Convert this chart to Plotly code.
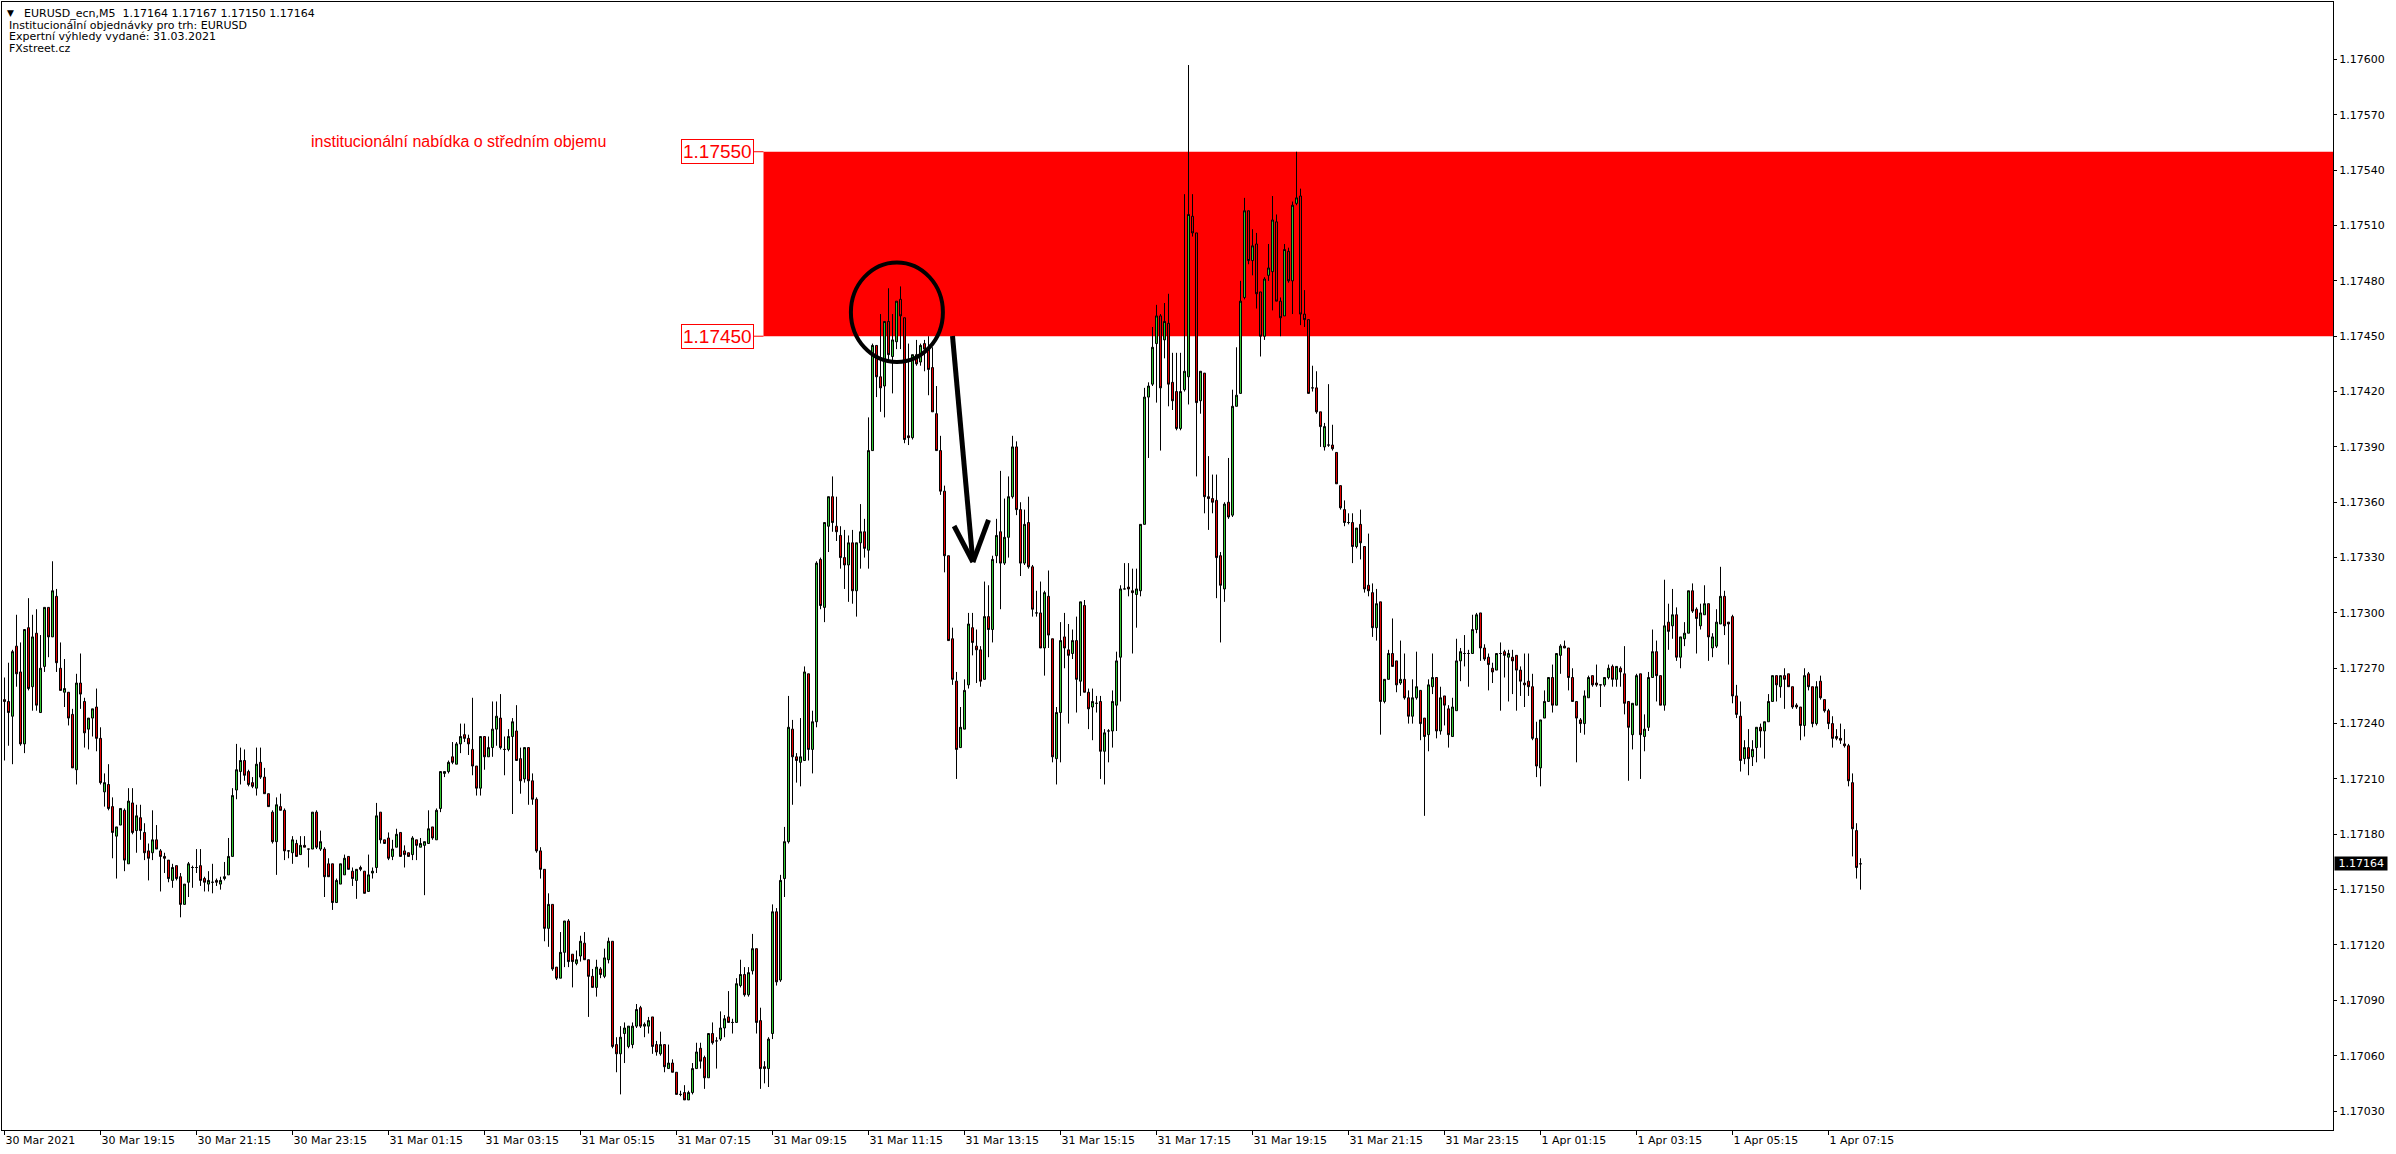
import pandas as pd
import plotly.graph_objects as go

# ---------------- data (EURUSD_ecn, M5) ----------------
START = "2021-03-30 17:15"

OPEN = [
1.17253,1.17252,1.17244,1.17282,1.17268,1.17229,1.17292,1.17260,1.17289,1.17246,
1.17271,1.17303,1.17287,1.17309,1.17270,1.17257,1.17257,1.17245,1.17215,1.17262,
1.17252,1.17237,1.17243,1.17249,1.17232,1.17203,1.17207,1.17195,1.17179,1.17185,
1.17193,1.17164,1.17197,1.17182,1.17189,1.17181,1.17171,1.17170,1.17177,1.17171,
1.17168,1.17166,1.17155,1.17163,1.17157,1.17142,1.17154,1.17162,1.17162,1.17163,
1.17156,1.17153,1.17154,1.17155,1.17153,1.17156,1.17158,1.17168,1.17204,1.17214,
1.17220,1.17214,1.17208,1.17205,1.17219,1.17211,1.17202,1.17192,1.17176,1.17195,
1.17193,1.17171,1.17170,1.17175,1.17169,1.17174,1.17172,1.17172,1.17192,1.17172,
1.17172,1.17164,1.17164,1.17143,1.17153,1.17158,1.17168,1.17160,1.17155,1.17162,
1.17160,1.17149,1.17159,1.17162,1.17192,1.17177,1.17178,1.17168,1.17173,1.17181,
1.17171,1.17170,1.17169,1.17177,1.17173,1.17174,1.17175,1.17184,1.17177,1.17194,
1.17213,1.17214,1.17222,1.17218,1.17229,1.17234,1.17232,
1.17226,1.17217,1.17205,1.17233,1.17222,1.17227,1.17237,1.17243,1.17226,1.17226,
1.17233,1.17236,1.17221,1.17210,1.17227,1.17209,1.17199,1.17171,1.17161,1.17129,
1.17142,1.17108,1.17102,1.17116,1.17133,1.17115,1.17110,1.17114,1.17121,1.17112,
1.17103,1.17097,1.17107,1.17103,1.17112,1.17122,1.17066,1.17061,1.17072,1.17065,
1.17066,1.17076,1.17086,1.17076,1.17076,1.17081,1.17066,1.17061,1.17066,1.17053,
1.17056,1.17051,1.17039,1.17040,1.17036,1.17040,1.17053,1.17064,1.17059,1.17048,
1.17072,1.17068,1.17069,1.17075,1.17081,1.17078,1.17078,1.17098,1.17104,1.17093,
1.17106,1.17118,1.17079,1.17054,1.17053,1.17072,1.17138,1.17101,1.17156,1.17176,
1.17237,1.17222,1.17219,1.17220,1.17267,1.17226,1.17241,1.17329,1.17303,1.17347,
1.17363,1.17347,1.17342,1.17330,1.17326,1.17338,1.17312,1.17338,1.17344,1.17334,
1.17388,1.17445,1.17428,1.17423,1.17458,1.17439,1.17447,1.17470,1.17460,1.17396,
1.17395,1.17440,1.17436,1.17446,1.17443,1.17433,1.17408,1.17388,
1.17366,1.17331,1.17286,1.17263,1.17227,1.17237,1.17261,1.17292,1.17282,1.17280,
1.17264,1.17298,1.17291,1.17331,1.17344,1.17327,1.17341,1.17363,1.17390,1.17356,
1.17327,1.17349,1.17325,1.17300,1.17300,1.17281,1.17309,1.17286,1.17221,1.17246,
1.17287,1.17280,1.17278,1.17285,1.17263,1.17304,1.17257,1.17249,1.17251,1.17252,
1.17225,1.17236,1.17236,1.17250,1.17276,1.17313,1.17314,1.17312,1.17310,1.17312,
1.17348,1.17417,1.17424,1.17446,1.17461,1.17448,1.17457,1.17425,1.17420,1.17400,
1.17421,1.17428,1.17515,1.17506,1.17415,1.17430,1.17363,1.17362,1.17361,1.17331,
1.17313,1.17360,1.17353,1.17412,1.17419,1.17471,1.17518,1.17491,1.17500,1.17474,
1.17450,1.17483,1.17485,1.17512,1.17469,1.17461,1.17496,1.17480,1.17522,1.17526,
1.17462,1.17459,1.17422,1.17422,1.17409,1.17390,1.17391,1.17391,1.17387,1.17369,
1.17356,1.17349,1.17349,1.17336,1.17348,1.17336,1.17315,1.17311,1.17292,1.17306,
1.17252,1.17264,1.17278,1.17274,1.17262,
1.17264,1.17254,1.17244,1.17254,1.17258,1.17243,1.17234,1.17260,1.17265,1.17236,
1.17255,1.17248,1.17233,1.17247,1.17274,1.17278,1.17278,1.17278,1.17291,1.17300,
1.17281,1.17276,1.17270,1.17269,1.17278,1.17279,1.17276,1.17276,1.17277,1.17269,
1.17262,1.17263,1.17260,1.17232,1.17216,1.17243,1.17252,1.17265,1.17250,1.17277,
1.17282,1.17281,1.17265,1.17252,1.17242,1.17240,1.17254,1.17266,1.17262,1.17261,
1.17261,1.17265,1.17271,1.17264,1.17270,1.17267,1.17252,1.17234,1.17250,1.17267,
1.17233,1.17238,1.17265,1.17279,1.17266,1.17250,1.17295,1.17293,1.17299,1.17276,
1.17286,1.17289,1.17312,1.17302,1.17293,1.17299,1.17305,1.17281,1.17282,1.17294,
1.17309,1.17295,1.17298,1.17255,1.17244,1.17221,1.17227,1.17222,1.17227,1.17238,
1.17236,1.17241,1.17252,1.17266,1.17260,1.17266,1.17267,1.17260,1.17250,1.17249,
1.17239,1.17267,1.17260,1.17240,1.17263,1.17253,1.17247,1.17240,1.17233,1.17232,
1.17229,1.17228,1.17208,1.17182,1.17164,
]

HIGH = [
1.17265,1.17273,1.17280,1.17299,1.17284,1.17291,1.17308,1.17299,1.17302,1.17288,
1.17303,1.17303,1.17328,1.17313,1.17284,1.17275,1.17257,1.17248,1.17267,1.17278,
1.17254,1.17243,1.17248,1.17259,1.17238,1.17213,1.17218,1.17200,1.17184,1.17194,
1.17194,1.17205,1.17205,1.17196,1.17196,1.17186,1.17175,1.17193,1.17185,1.17172,
1.17170,1.17166,1.17164,1.17163,1.17159,1.17153,1.17165,1.17163,1.17172,1.17172,
1.17157,1.17160,1.17164,1.17156,1.17157,1.17165,1.17178,1.17205,1.17229,1.17227,
1.17226,1.17215,1.17211,1.17227,1.17227,1.17216,1.17202,1.17193,1.17200,1.17202,
1.17194,1.17171,1.17179,1.17177,1.17179,1.17179,1.17172,1.17192,1.17193,1.17182,
1.17173,1.17167,1.17164,1.17156,1.17164,1.17169,1.17168,1.17162,1.17161,1.17163,
1.17160,1.17169,1.17162,1.17197,1.17192,1.17177,1.17181,1.17177,1.17183,1.17181,
1.17174,1.17170,1.17179,1.17177,1.17178,1.17176,1.17193,1.17184,1.17194,1.17214,
1.17214,1.17220,1.17230,1.17230,1.17240,1.17240,1.17234,
1.17254,1.17217,1.17233,1.17233,1.17233,1.17252,1.17252,1.17256,1.17233,1.17237,
1.17243,1.17250,1.17227,1.17227,1.17227,1.17213,1.17200,1.17173,1.17161,1.17148,
1.17142,1.17108,1.17127,1.17133,1.17134,1.17115,1.17117,1.17125,1.17127,1.17112,
1.17107,1.17112,1.17108,1.17118,1.17124,1.17122,1.17070,1.17076,1.17078,1.17076,
1.17078,1.17088,1.17087,1.17078,1.17081,1.17081,1.17068,1.17073,1.17066,1.17066,
1.17058,1.17051,1.17041,1.17044,1.17041,1.17056,1.17067,1.17067,1.17060,1.17072,
1.17078,1.17070,1.17084,1.17082,1.17095,1.17080,1.17102,1.17112,1.17108,1.17108,
1.17126,1.17118,1.17086,1.17057,1.17070,1.17142,1.17140,1.17158,1.17184,1.17255,
1.17242,1.17224,1.17243,1.17271,1.17267,1.17247,1.17328,1.17330,1.17349,1.17363,
1.17374,1.17363,1.17347,1.17345,1.17342,1.17345,1.17338,1.17359,1.17351,1.17406,
1.17446,1.17445,1.17462,1.17458,1.17476,1.17462,1.17469,1.17477,1.17460,1.17446,
1.17440,1.17448,1.17446,1.17448,1.17450,1.17444,1.17423,1.17396,
1.17369,1.17331,1.17292,1.17268,1.17249,1.17264,1.17300,1.17300,1.17291,1.17282,
1.17317,1.17315,1.17331,1.17351,1.17377,1.17362,1.17374,1.17396,1.17393,1.17360,
1.17356,1.17363,1.17326,1.17312,1.17317,1.17312,1.17323,1.17286,1.17249,1.17295,
1.17300,1.17294,1.17291,1.17298,1.17306,1.17307,1.17259,1.17259,1.17255,1.17255,
1.17237,1.17237,1.17258,1.17279,1.17315,1.17327,1.17327,1.17324,1.17324,1.17348,
1.17422,1.17425,1.17455,1.17467,1.17462,1.17468,1.17473,1.17441,1.17441,1.17441,
1.17527,1.17597,1.17527,1.17506,1.17431,1.17430,1.17385,1.17375,1.17375,1.17333,
1.17360,1.17384,1.17421,1.17444,1.17480,1.17525,1.17518,1.17508,1.17506,1.17474,
1.17482,1.17500,1.17526,1.17516,1.17471,1.17500,1.17498,1.17523,1.17550,1.17530,
1.17475,1.17459,1.17434,1.17431,1.17409,1.17403,1.17424,1.17402,1.17387,1.17369,
1.17361,1.17354,1.17354,1.17346,1.17356,1.17336,1.17343,1.17316,1.17313,1.17306,
1.17264,1.17280,1.17297,1.17274,1.17285,
1.17278,1.17258,1.17264,1.17279,1.17258,1.17243,1.17264,1.17278,1.17265,1.17260,
1.17255,1.17250,1.17254,1.17286,1.17281,1.17288,1.17280,1.17299,1.17300,1.17300,
1.17283,1.17278,1.17273,1.17278,1.17284,1.17280,1.17280,1.17280,1.17277,1.17271,
1.17278,1.17278,1.17267,1.17241,1.17242,1.17258,1.17265,1.17272,1.17278,1.17283,
1.17285,1.17281,1.17270,1.17252,1.17243,1.17258,1.17266,1.17266,1.17272,1.17261,
1.17265,1.17272,1.17272,1.17271,1.17271,1.17282,1.17252,1.17251,1.17267,1.17267,
1.17245,1.17268,1.17291,1.17285,1.17266,1.17318,1.17305,1.17313,1.17303,1.17287,
1.17295,1.17312,1.17316,1.17303,1.17305,1.17315,1.17305,1.17289,1.17302,1.17325,
1.17312,1.17295,1.17299,1.17261,1.17252,1.17231,1.17237,1.17231,1.17238,1.17240,
1.17241,1.17256,1.17266,1.17266,1.17266,1.17270,1.17267,1.17260,1.17251,1.17249,
1.17270,1.17268,1.17260,1.17263,1.17266,1.17253,1.17248,1.17244,1.17237,1.17240,
1.17237,1.17229,1.17213,1.17186,1.17167,
]

LOW = [
1.17220,1.17228,1.17218,1.17260,1.17228,1.17224,1.17258,1.17247,1.17247,1.17246,
1.17268,1.17276,1.17287,1.17268,1.17258,1.17249,1.17239,1.17216,1.17207,1.17248,
1.17227,1.17226,1.17233,1.17225,1.17207,1.17195,1.17193,1.17167,1.17156,1.17185,
1.17160,1.17164,1.17180,1.17170,1.17177,1.17166,1.17155,1.17166,1.17172,1.17149,
1.17159,1.17154,1.17151,1.17155,1.17135,1.17142,1.17146,1.17151,1.17159,1.17152,
1.17149,1.17149,1.17148,1.17152,1.17150,1.17155,1.17158,1.17168,1.17199,1.17207,
1.17209,1.17206,1.17205,1.17201,1.17210,1.17202,1.17195,1.17175,1.17158,1.17193,
1.17166,1.17167,1.17164,1.17168,1.17169,1.17173,1.17162,1.17172,1.17172,1.17171,
1.17146,1.17157,1.17139,1.17143,1.17153,1.17158,1.17161,1.17152,1.17145,1.17160,
1.17148,1.17149,1.17156,1.17159,1.17175,1.17175,1.17166,1.17166,1.17173,1.17168,
1.17162,1.17168,1.17166,1.17166,1.17173,1.17147,1.17175,1.17177,1.17177,1.17192,
1.17211,1.17213,1.17218,1.17218,1.17224,1.17230,1.17223,
1.17212,1.17201,1.17201,1.17215,1.17222,1.17222,1.17228,1.17226,1.17212,1.17225,
1.17191,1.17220,1.17202,1.17208,1.17196,1.17196,1.17170,1.17156,1.17122,1.17119,
1.17106,1.17101,1.17102,1.17108,1.17108,1.17097,1.17109,1.17111,1.17112,1.17081,
1.17097,1.17092,1.17102,1.17102,1.17110,1.17064,1.17051,1.17039,1.17056,1.17064,
1.17064,1.17075,1.17075,1.17070,1.17072,1.17061,1.17060,1.17060,1.17051,1.17053,
1.17051,1.17039,1.17038,1.17036,1.17036,1.17039,1.17053,1.17053,1.17042,1.17048,
1.17066,1.17053,1.17068,1.17070,1.17078,1.17072,1.17078,1.17097,1.17092,1.17092,
1.17104,1.17072,1.17042,1.17045,1.17043,1.17069,1.17098,1.17100,1.17146,1.17175,
1.17196,1.17208,1.17206,1.17220,1.17220,1.17213,1.17238,1.17302,1.17295,1.17333,
1.17344,1.17339,1.17324,1.17313,1.17306,1.17305,1.17298,1.17324,1.17330,1.17324,
1.17388,1.17417,1.17409,1.17406,1.17437,1.17419,1.17443,1.17443,1.17392,1.17391,
1.17394,1.17434,1.17434,1.17431,1.17418,1.17409,1.17388,1.17364,
1.17322,1.17285,1.17261,1.17210,1.17227,1.17237,1.17259,1.17277,1.17262,1.17260,
1.17264,1.17276,1.17284,1.17327,1.17302,1.17326,1.17330,1.17362,1.17353,1.17320,
1.17326,1.17324,1.17298,1.17298,1.17281,1.17266,1.17281,1.17219,1.17207,1.17219,
1.17270,1.17240,1.17275,1.17246,1.17255,1.17257,1.17237,1.17231,1.17246,1.17210,
1.17207,1.17219,1.17227,1.17236,1.17252,1.17313,1.17309,1.17278,1.17292,1.17309,
1.17348,1.17384,1.17423,1.17414,1.17388,1.17438,1.17412,1.17410,1.17399,1.17399,
1.17420,1.17413,1.17504,1.17374,1.17408,1.17354,1.17345,1.17354,1.17308,1.17284,
1.17306,1.17351,1.17352,1.17412,1.17419,1.17470,1.17489,1.17483,1.17465,1.17439,
1.17448,1.17480,1.17464,1.17469,1.17450,1.17461,1.17479,1.17462,1.17521,1.17456,
1.17455,1.17419,1.17420,1.17408,1.17390,1.17388,1.17390,1.17388,1.17370,1.17356,
1.17347,1.17348,1.17327,1.17335,1.17329,1.17311,1.17309,1.17287,1.17285,1.17234,
1.17251,1.17264,1.17271,1.17257,1.17261,
1.17253,1.17240,1.17240,1.17253,1.17231,1.17190,1.17225,1.17256,1.17232,1.17234,
1.17239,1.17227,1.17233,1.17247,1.17263,1.17271,1.17260,1.17278,1.17289,1.17274,
1.17274,1.17258,1.17262,1.17269,1.17247,1.17265,1.17252,1.17256,1.17247,1.17255,
1.17249,1.17255,1.17231,1.17211,1.17206,1.17243,1.17252,1.17246,1.17250,1.17267,
1.17281,1.17258,1.17252,1.17219,1.17235,1.17234,1.17254,1.17260,1.17260,1.17249,
1.17260,1.17264,1.17260,1.17260,1.17260,1.17245,1.17209,1.17226,1.17250,1.17210,
1.17225,1.17236,1.17265,1.17252,1.17250,1.17247,1.17280,1.17286,1.17274,1.17270,
1.17282,1.17289,1.17300,1.17278,1.17291,1.17299,1.17274,1.17276,1.17281,1.17294,
1.17288,1.17272,1.17251,1.17243,1.17214,1.17218,1.17212,1.17217,1.17219,1.17227,
1.17221,1.17241,1.17252,1.17252,1.17254,1.17248,1.17260,1.17248,1.17248,1.17231,
1.17233,1.17258,1.17238,1.17239,1.17253,1.17246,1.17237,1.17227,1.17231,1.17229,
1.17227,1.17206,1.17168,1.17156,1.17150,
]

CLOSE = [
1.17252,1.17246,1.17279,1.17267,1.17229,1.17291,1.17259,1.17287,1.17250,1.17270,
1.17303,1.17287,1.17312,1.17273,1.17258,1.17259,1.17243,1.17216,1.17262,1.17256,
1.17235,1.17243,1.17248,1.17232,1.17208,1.17208,1.17194,1.17181,1.17184,1.17194,
1.17166,1.17198,1.17181,1.17190,1.17182,1.17170,1.17167,1.17177,1.17172,1.17168,
1.17167,1.17156,1.17162,1.17156,1.17142,1.17153,1.17164,1.17162,1.17162,1.17155,
1.17154,1.17155,1.17154,1.17154,1.17155,1.17157,1.17168,1.17201,1.17215,1.17220,
1.17212,1.17207,1.17206,1.17218,1.17211,1.17202,1.17195,1.17176,1.17196,1.17193,
1.17171,1.17171,1.17177,1.17168,1.17174,1.17173,1.17172,1.17192,1.17173,1.17176,
1.17157,1.17157,1.17143,1.17155,1.17164,1.17167,1.17161,1.17156,1.17161,1.17161,
1.17148,1.17158,1.17160,1.17190,1.17177,1.17175,1.17167,1.17172,1.17180,1.17168,
1.17169,1.17168,1.17178,1.17174,1.17175,1.17176,1.17183,1.17178,1.17193,1.17214,
1.17214,1.17219,1.17219,1.17229,1.17233,1.17232,1.17229,
1.17217,1.17205,1.17233,1.17222,1.17227,1.17237,1.17244,1.17227,1.17226,1.17233,
1.17241,1.17220,1.17209,1.17227,1.17209,1.17199,1.17171,1.17161,1.17129,1.17142,
1.17107,1.17102,1.17116,1.17133,1.17111,1.17111,1.17112,1.17122,1.17112,1.17103,
1.17097,1.17108,1.17104,1.17113,1.17122,1.17065,1.17061,1.17070,1.17075,1.17076,
1.17076,1.17085,1.17076,1.17077,1.17079,1.17065,1.17062,1.17066,1.17054,1.17056,
1.17051,1.17039,1.17039,1.17036,1.17040,1.17053,1.17062,1.17057,1.17048,1.17072,
1.17067,1.17068,1.17075,1.17080,1.17078,1.17078,1.17099,1.17104,1.17093,1.17105,
1.17118,1.17078,1.17053,1.17053,1.17069,1.17138,1.17100,1.17155,1.17176,1.17238,
1.17222,1.17220,1.17222,1.17268,1.17226,1.17241,1.17327,1.17304,1.17349,1.17363,
1.17349,1.17344,1.17330,1.17326,1.17338,1.17312,1.17338,1.17344,1.17335,1.17388,
1.17445,1.17428,1.17422,1.17458,1.17440,1.17448,1.17469,1.17461,1.17394,1.17395,
1.17440,1.17435,1.17445,1.17443,1.17432,1.17409,1.17388,1.17366,
1.17331,1.17285,1.17264,1.17226,1.17238,1.17258,1.17294,1.17284,1.17280,1.17263,
1.17298,1.17291,1.17329,1.17342,1.17327,1.17341,1.17363,1.17390,1.17356,1.17327,
1.17348,1.17325,1.17302,1.17300,1.17281,1.17311,1.17288,1.17222,1.17246,1.17285,
1.17281,1.17277,1.17285,1.17264,1.17306,1.17257,1.17248,1.17252,1.17251,1.17225,
1.17235,1.17236,1.17252,1.17274,1.17313,1.17313,1.17313,1.17311,1.17313,1.17348,
1.17417,1.17423,1.17444,1.17461,1.17422,1.17458,1.17424,1.17415,1.17400,1.17420,
1.17431,1.17516,1.17506,1.17414,1.17431,1.17363,1.17362,1.17360,1.17330,1.17315,
1.17359,1.17352,1.17412,1.17418,1.17469,1.17518,1.17491,1.17499,1.17473,1.17450,
1.17481,1.17487,1.17513,1.17469,1.17460,1.17497,1.17480,1.17521,1.17525,1.17462,
1.17459,1.17419,1.17422,1.17409,1.17401,1.17401,1.17391,1.17389,1.17370,1.17357,
1.17349,1.17349,1.17336,1.17346,1.17338,1.17313,1.17312,1.17292,1.17305,1.17252,
1.17264,1.17278,1.17271,1.17261,1.17264,
1.17254,1.17244,1.17254,1.17260,1.17240,1.17233,1.17261,1.17265,1.17236,1.17254,
1.17250,1.17234,1.17249,1.17274,1.17279,1.17278,1.17278,1.17291,1.17299,1.17281,
1.17275,1.17272,1.17268,1.17278,1.17278,1.17277,1.17278,1.17274,1.17269,1.17263,
1.17261,1.17260,1.17232,1.17217,1.17242,1.17252,1.17265,1.17250,1.17278,1.17282,
1.17281,1.17265,1.17252,1.17243,1.17240,1.17255,1.17265,1.17261,1.17261,1.17261,
1.17265,1.17270,1.17264,1.17271,1.17268,1.17251,1.17238,1.17251,1.17266,1.17234,
1.17237,1.17265,1.17279,1.17266,1.17250,1.17293,1.17290,1.17299,1.17276,1.17287,
1.17289,1.17312,1.17301,1.17297,1.17300,1.17305,1.17287,1.17287,1.17295,1.17309,
1.17293,1.17294,1.17255,1.17245,1.17220,1.17227,1.17221,1.17226,1.17238,1.17236,
1.17241,1.17252,1.17266,1.17261,1.17266,1.17264,1.17260,1.17249,1.17249,1.17239,
1.17266,1.17260,1.17240,1.17260,1.17254,1.17247,1.17240,1.17232,1.17232,1.17231,
1.17228,1.17209,1.17183,1.17162,1.17164,
]

Y_TICKS = [1.17030, 1.17060, 1.17090, 1.17120, 1.17150, 1.17180, 1.17210,
           1.17240, 1.17270, 1.17300, 1.17330, 1.17360, 1.17390, 1.17420,
           1.17450, 1.17480, 1.17510, 1.17540, 1.17570, 1.17600]

X_TICK_TIMES = ["2021-03-30 17:15", "2021-03-30 19:15", "2021-03-30 21:15",
                "2021-03-30 23:15", "2021-03-31 01:15", "2021-03-31 03:15",
                "2021-03-31 05:15", "2021-03-31 07:15", "2021-03-31 09:15",
                "2021-03-31 11:15", "2021-03-31 13:15", "2021-03-31 15:15",
                "2021-03-31 17:15", "2021-03-31 19:15", "2021-03-31 21:15",
                "2021-03-31 23:15", "2021-04-01 01:15", "2021-04-01 03:15",
                "2021-04-01 05:15", "2021-04-01 07:15"]
X_TICK_TEXT = ["30 Mar 2021", "30 Mar 19:15", "30 Mar 21:15", "30 Mar 23:15",
               "31 Mar 01:15", "31 Mar 03:15", "31 Mar 05:15", "31 Mar 07:15",
               "31 Mar 09:15", "31 Mar 11:15", "31 Mar 13:15", "31 Mar 15:15",
               "31 Mar 17:15", "31 Mar 19:15", "31 Mar 21:15", "31 Mar 23:15",
               "1 Apr 01:15", "1 Apr 03:15", "1 Apr 05:15", "1 Apr 07:15"]

ZONE_LOW = 1.17450
ZONE_HIGH = 1.17550
LAST_PRICE = 1.17164
HEADER = ["EURUSD_ecn,M5  1.17164 1.17167 1.17150 1.17164",
          "Institucionální objednávky pro trh: EURUSD",
          "Expertní výhledy vydané: 31.03.2021",
          "FXstreet.cz"]
ZONE_TEXT = "institucionální nabídka o středním objemu"

GREEN = "#32c832"
RED = "#e60000"

TIMES = pd.date_range(START, periods=len(OPEN), freq="5min")


def bar_time(pos):
    """time at a (fractional) bar position, for annotation placement"""
    return (TIMES[0] + pd.Timedelta(minutes=5 * pos)).strftime("%Y-%m-%d %H:%M:%S.%f")


fig = go.Figure()
fig.add_trace(go.Candlestick(
    x=TIMES, open=OPEN, high=HIGH, low=LOW, close=CLOSE,
    increasing=dict(line=dict(color="black", width=1), fillcolor=GREEN),
    decreasing=dict(line=dict(color="black", width=1), fillcolor=RED),
    whiskerwidth=0, showlegend=False, hoverinfo="skip",
))

FONT = "DejaVu Sans"
shapes = []
# supply zone
shapes.append(dict(type="rect", xref="x", yref="y", x0=bar_time(189.75), x1=bar_time(583),
                   y0=ZONE_LOW, y1=ZONE_HIGH, fillcolor="#ff0000", line=dict(width=0),
                   layer="below"))
for lvl in (ZONE_HIGH, ZONE_LOW):
    shapes.append(dict(type="line", xref="x", yref="y", x0=bar_time(187.3), x1=bar_time(189.75),
                       y0=lvl, y1=lvl, line=dict(color="#ff0000", width=1)))
# circle
shapes.append(dict(type="circle", xref="x", yref="y", x0=bar_time(211.6), x1=bar_time(234.6),
                   y0=1.17436, y1=1.17490, line=dict(color="black", width=4)))
# arrow
ARROW_TIP = (242.1, 1.173276)
for sx, sy in [(237.0, 1.174501), (237.4, 1.173471), (246.0, 1.173504)]:
    shapes.append(dict(type="line", xref="x", yref="y", x0=bar_time(sx), y0=sy,
                       x1=bar_time(ARROW_TIP[0]), y1=ARROW_TIP[1],
                       line=dict(color="black", width=5)))

ann = []
ann.append(dict(xref="paper", yref="paper", x=0, y=1, xshift=8, yshift=-11,
                text="▼", showarrow=False, xanchor="center", yanchor="middle",
                font=dict(family=FONT, size=9, color="black")))
ys = [-11.3, -23, -34.7, -46.3]
xs = [19.5, 5.3, 5.3, 5.3]
for t, yy, xx in zip(HEADER, ys, xs):
    ann.append(dict(xref="paper", yref="paper", x=0, y=1, xshift=xx, yshift=yy, text=t,
                    showarrow=False, xanchor="left", yanchor="middle",
                    font=dict(family=FONT, size=11, color="black")))
ann.append(dict(xref="paper", yref="paper", x=0, y=1, xshift=307, yshift=-139,
                text=ZONE_TEXT, showarrow=False, xanchor="left", yanchor="middle",
                font=dict(family="Liberation Sans", size=16, color="#ff0000")))
for lvl in (ZONE_HIGH, ZONE_LOW):
    ann.append(dict(xref="x", yref="y", x=bar_time(187.3), y=lvl, text=f"{lvl:.5f}",
                    showarrow=False, xanchor="right", yanchor="middle",
                    font=dict(family="Liberation Sans", size=19, color="#ff0000"),
                    bordercolor="#ff0000", borderwidth=1, borderpad=1, bgcolor="white"))
ann.append(dict(xref="paper", yref="y", x=1, y=LAST_PRICE, xshift=1,
                text=f"\u00a0{LAST_PRICE:.5f}\u00a0", showarrow=False, xanchor="left",
                yanchor="middle", bgcolor="black", borderpad=0,
                font=dict(family=FONT, size=11, color="white")))

# half-bar pixel offset so that 1px wicks land on whole pixels
X_LEFT, X_RIGHT = -0.625, 582.125

fig.update_layout(
    width=2396, height=1154,
    margin=dict(l=2, r=63, t=2, b=24, autoexpand=False),
    paper_bgcolor="white", plot_bgcolor="white",
    boxgap=0.5, boxgroupgap=0,
    shapes=shapes, annotations=ann, showlegend=False,
    xaxis=dict(type="date", range=[bar_time(X_LEFT), bar_time(X_RIGHT)],
               rangeslider=dict(visible=False),
               tickvals=X_TICK_TIMES, ticktext=X_TICK_TEXT,
               ticks="outside", ticklen=4, tickcolor="black", tickwidth=1,
               ticklabelposition="outside right",
               tickfont=dict(family=FONT, size=11, color="black"),
               showline=True, linecolor="black", linewidth=1, mirror=True,
               showgrid=False, zeroline=False),
    yaxis=dict(side="right", range=[1.170197, 1.1763117],
               tickvals=Y_TICKS, tickformat=".5f",
               ticks="outside", ticklen=3, tickcolor="black", tickwidth=1,
               tickfont=dict(family=FONT, size=11, color="black"),
               showline=True, linecolor="black", linewidth=1, mirror=True,
               showgrid=False, zeroline=False),
)

fig.write_html("out.html", config={"displayModeBar": False},
               post_script="document.body.style.margin='0';"
                           "document.documentElement.style.overflow='hidden';")
